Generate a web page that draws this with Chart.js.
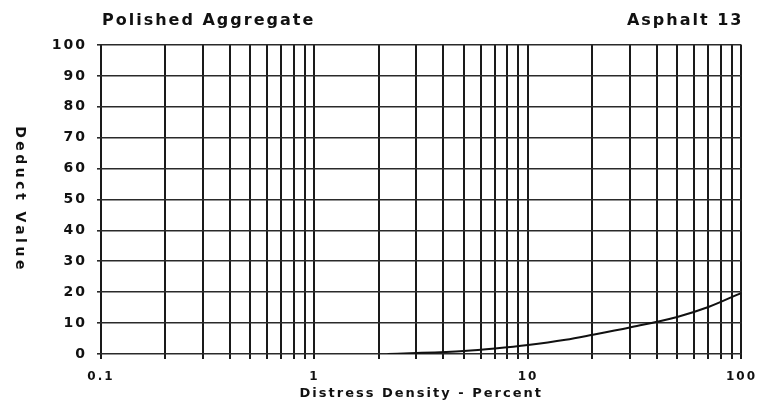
<!DOCTYPE html>
<html>
<head>
<meta charset="utf-8">
<script src="https://cdn.jsdelivr.net/npm/chart.js@4.4.1/dist/chart.umd.min.js"></script>
<style>
  html, body { margin: 0; padding: 0; background: #fff; }
  #wrap { width: 768px; height: 403px; }
</style>
</head>
<body>
<div id="wrap"><canvas id="deductChart"></canvas></div>
<script>
// curve
const densityValues = [2.2, 3, 5, 7, 10, 15, 20, 30, 50, 70, 100];
const deductValues = [0, 0.3, 1.0, 1.8, 2.9, 4.6, 6.2, 8.6, 12, 15.2, 19.8];

const xTickLabels = ['0.1', '1', '10', '100'];
const yTickValues = [0, 10, 20, 30, 40, 50, 60, 70, 80, 90, 100];

const leftTitle = 'Polished Aggregate';
const rightTitle = 'Asphalt 13';
const xAxisTitle = 'Distress Density - Percent';
const yAxisTitle = 'Deduct Value';

const FONT = '"DejaVu Sans", "Liberation Sans", sans-serif';

// stretched-looking scanned lettering
const spacingPlugin = {
    id: 'spacing',
    beforeLayout(chart) { chart.ctx.letterSpacing = '2px'; },
    beforeDraw(chart) { chart.ctx.letterSpacing = '2px'; }
};

const titlesPlugin = {
    id: 'titles',
    afterDraw(chart) {
        const ctx = chart.ctx;
        const area = chart.chartArea;
        ctx.save();
        ctx.fillStyle = '#111';
        ctx.letterSpacing = '2px';
        ctx.font = 'bold 16px ' + FONT;
        ctx.textBaseline = 'middle';
        ctx.textAlign = 'left';
        ctx.fillText(leftTitle, area.left + 1, 21);
        ctx.textAlign = 'right';
        ctx.fillText(rightTitle, area.right + 2, 21);

        // y title reads top to bottom
        ctx.letterSpacing = '3.5px';
        ctx.font = 'bold 14px ' + FONT;
        ctx.translate(20, (area.top + area.bottom) / 2);
        ctx.rotate(Math.PI / 2);
        ctx.textAlign = 'center';
        ctx.fillText(yAxisTitle, 0, 0);
        ctx.restore();
    }
};

const ctx = document.getElementById('deductChart').getContext('2d');
const deductChart = new Chart(ctx, {
    type: 'line',
    data: {
        datasets: [{
            label: 'Deduct Value',
            data: densityValues.map((x, i) => ({ x: x, y: deductValues[i] })),
            borderColor: '#111',
            borderWidth: 2,
            pointRadius: 0,
            cubicInterpolationMode: 'monotone',
            fill: false
        }]
    },
    options: {
        responsive: true,
        maintainAspectRatio: false,
        animation: false,
        layout: { padding: { left: 40, right: 22, top: 45, bottom: 0 } },
        plugins: {
            legend: { display: false },
            tooltip: { enabled: false }
        },
        scales: {
            x: {
                type: 'logarithmic',
                min: 0.1,
                max: 100,
                afterBuildTicks(scale) {
                    const ticks = [];
                    [0.1, 1, 10].forEach(d => {
                        for (let m = 1; m < 10; m++) ticks.push({ value: +(m * d).toPrecision(3) });
                    });
                    ticks.push({ value: 100 });
                    scale.ticks = ticks;
                },
                afterFit(scale) { scale.height = 49; },
                grid: {
                    color: '#1a1a1a',
                    lineWidth: 2,
                    tickLength: 5,
                    drawTicks: true
                },
                border: { display: false },
                ticks: {
                    autoSkip: false,
                    maxRotation: 0,
                    padding: 11,
                    color: '#111',
                    font: { family: FONT, size: 12, weight: 'bold' },
                    callback(value) {
                        const lbl = xTickLabels.find(l => Math.abs(parseFloat(l) - value) < 1e-9);
                        return lbl || '';
                    }
                },
                title: {
                    display: true,
                    text: xAxisTitle,
                    color: '#111',
                    font: { family: FONT, size: 13, weight: 'bold' },
                    padding: { top: 0, bottom: 2 }
                }
            },
            y: {
                min: 0,
                max: 100,
                afterBuildTicks(scale) {
                    scale.ticks = yTickValues.map(v => ({ value: v }));
                },
                afterFit(scale) { scale.width = 61; },
                grid: {
                    color: '#2a2a2a',
                    lineWidth: 1.6,
                    tickLength: 4
                },
                border: { display: false },
                ticks: {
                    padding: 10,
                    color: '#111',
                    font: { family: FONT, size: 14, weight: 'bold' }
                }
            }
        }
    },
    plugins: [spacingPlugin, titlesPlugin]
});
</script>
</body>
</html>
